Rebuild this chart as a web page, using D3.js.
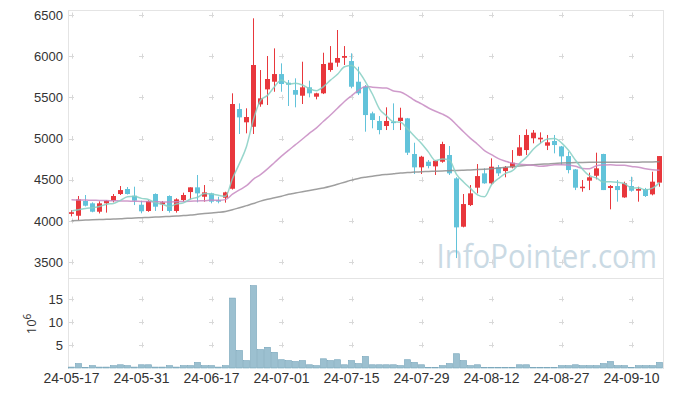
<!DOCTYPE html>
<html>
<head>
<meta charset="utf-8">
<script src="https://cdn.jsdelivr.net/npm/d3@7"></script>
<style>
  html, body { margin: 0; padding: 0; background: #fff; }
  svg { display: block; font-family: 'Open Sans', 'Noto Sans', sans-serif; }
</style>
</head>
<body>
<div id="chart"></div>
<script>
// trading days shown on the chart
const dates = [
  '24-05-17', '24-05-20', '24-05-21', '24-05-22', '24-05-23', '24-05-24', '24-05-27', '24-05-28', '24-05-29', '24-05-30',
  '24-05-31', '24-06-03', '24-06-04', '24-06-05', '24-06-07', '24-06-10', '24-06-11', '24-06-12', '24-06-13', '24-06-14',
  '24-06-17', '24-06-18', '24-06-19', '24-06-20', '24-06-21', '24-06-24', '24-06-25', '24-06-26', '24-06-27', '24-06-28',
  '24-07-01', '24-07-02', '24-07-03', '24-07-04', '24-07-05', '24-07-08', '24-07-09', '24-07-10', '24-07-11', '24-07-12',
  '24-07-15', '24-07-16', '24-07-17', '24-07-18', '24-07-19', '24-07-22', '24-07-23', '24-07-24', '24-07-25', '24-07-26',
  '24-07-29', '24-07-30', '24-07-31', '24-08-01', '24-08-02', '24-08-05', '24-08-06', '24-08-07', '24-08-08', '24-08-09',
  '24-08-12', '24-08-13', '24-08-14', '24-08-16', '24-08-19', '24-08-20', '24-08-21', '24-08-22', '24-08-23', '24-08-26',
  '24-08-27', '24-08-28', '24-08-29', '24-08-30', '24-09-02', '24-09-03', '24-09-04', '24-09-05', '24-09-06', '24-09-09',
  '24-09-10', '24-09-11', '24-09-12', '24-09-13', '24-09-19'
];

const open = [
  4085, 4062, 4241, 4213, 4111, 4213, 4245, 4326, 4387, 4305,
  4196, 4120, 4326, 4201, 4302, 4120, 4253, 4350, 4407, 4293,
  4334, 4253, 4281, 4390, 5358, 5197, 5143, 5415, 5597, 5690,
  5783, 5678, 5589, 5520, 5622, 5508, 5549, 5832, 5921, 5981,
  5941, 5690, 5629, 5306, 5213, 5152, 5205, 5213, 5245, 4812,
  4650, 4718, 4662, 4718, 4800, 4516, 3929, 4192, 4403, 4577,
  4456, 4650, 4605, 4650, 4791, 4860, 5003, 4990, 4913, 4970,
  4904, 4787, 4625, 4399, 4488, 4548, 4812, 4399, 4423, 4285,
  4423, 4366, 4387, 4322, 4464
];
const high = [
  4130, 4302, 4314, 4225, 4237, 4253, 4326, 4423, 4411, 4415,
  4245, 4250, 4334, 4241, 4310, 4274, 4342, 4407, 4557, 4435,
  4342, 4293, 4354, 5549, 5427, 5367, 6460, 5832, 6002, 6095,
  5913, 5711, 5731, 5933, 5702, 5556, 6042, 6123, 6318, 6123,
  6035, 5872, 5650, 5326, 5273, 5379, 5427, 5374, 5250, 4949,
  4790, 4739, 4740, 4961, 4909, 4530, 4326, 4435, 4690, 4638,
  4759, 4678, 4666, 4860, 5043, 5112, 5103, 5075, 5043, 5043,
  4910, 4840, 4630, 4496, 4585, 4828, 4815, 4435, 4496, 4476,
  4536, 4415, 4400, 4597, 4787
];
const low = [
  4055, 4010, 4175, 4104, 4090, 4100, 4225, 4314, 4320, 4192,
  4092, 4110, 4120, 4120, 4100, 4100, 4233, 4261, 4225, 4233,
  4213, 4213, 4221, 4380, 5055, 5063, 5055, 5386, 5407, 5568,
  5568, 5395, 5379, 5419, 5500, 5476, 5540, 5811, 5872, 5893,
  5610, 5528, 5083, 5124, 5051, 5103, 5103, 5103, 4800, 4569,
  4569, 4638, 4557, 4706, 4557, 3548, 3921, 4180, 4334, 4450,
  4440, 4544, 4529, 4638, 4787, 4800, 4942, 4942, 4860, 4820,
  4678, 4577, 4374, 4354, 4374, 4504, 4374, 4140, 4233, 4280,
  4354, 4233, 4290, 4310, 4415
];
const close = [
  4105, 4261, 4184, 4111, 4213, 4245, 4302, 4374, 4326, 4245,
  4116, 4241, 4172, 4225, 4120, 4261, 4314, 4407, 4334, 4346,
  4233, 4233, 4346, 5419, 5257, 5261, 5893, 5488, 5723, 5783,
  5662, 5653, 5532, 5622, 5549, 5549, 5905, 5921, 5978, 6002,
  5629, 5549, 5285, 5225, 5103, 5213, 5190, 5253, 4828, 4650,
  4779, 4666, 4730, 4933, 4577, 3921, 4204, 4334, 4544, 4456,
  4658, 4577, 4650, 4706, 4893, 5043, 5071, 5010, 4954, 4921,
  4783, 4617, 4403, 4415, 4529, 4638, 4374, 4423, 4374, 4456,
  4366, 4387, 4302, 4476, 4787
];

// moving averages as drawn (5, 20 and long term)
const ma5 = [
  4120, 4135, 4150, 4160, 4174, 4203, 4211, 4249, 4292, 4298,
  4273, 4260, 4220, 4200, 4175, 4204, 4218, 4265, 4287, 4332,
  4327, 4311, 4298, 4515, 4698, 4903, 5235, 5464, 5524, 5630,
  5710, 5662, 5671, 5650, 5604, 5581, 5631, 5709, 5780, 5871,
  5887, 5816, 5689, 5538, 5358, 5275, 5203, 5197, 5117, 5027,
  4940, 4835, 4731, 4752, 4737, 4565, 4473, 4394, 4316, 4292,
  4439, 4514, 4577, 4609, 4697, 4774, 4873, 4945, 4994, 5000,
  4948, 4857, 4736, 4628, 4549, 4520, 4472, 4476, 4468, 4453,
  4399, 4401, 4377, 4397, 4464
];
const ma20 = [
  4255, 4254, 4252, 4250, 4248, 4246, 4244, 4242, 4240, 4238,
  4236, 4234, 4232, 4230, 4230, 4232, 4235, 4238, 4242, 4245,
  4252, 4250, 4258, 4324, 4376, 4427, 4506, 4562, 4632, 4709,
  4786, 4857, 4925, 4994, 5066, 5130, 5210, 5285, 5368, 5450,
  5520, 5586, 5633, 5623, 5616, 5613, 5578, 5566, 5522, 5465,
  5421, 5371, 5331, 5297, 5248, 5167, 5082, 5002, 4931, 4853,
  4805, 4756, 4725, 4699, 4688, 4680, 4674, 4662, 4668, 4681,
  4682, 4679, 4663, 4637, 4634, 4670, 4679, 4683, 4675, 4675,
  4660, 4651, 4633, 4622, 4616
];
const maLong = [
  4002, 4005, 4009, 4013, 4016, 4019, 4022, 4025, 4031, 4034,
  4038, 4042, 4046, 4050, 4054, 4058, 4064, 4070, 4080, 4088,
  4096, 4104, 4115, 4135, 4160, 4185, 4210, 4240, 4262, 4280,
  4300, 4322, 4338, 4354, 4370, 4385, 4400, 4420, 4445, 4470,
  4495, 4515, 4530, 4543, 4555, 4564, 4572, 4580, 4586, 4592,
  4597, 4600, 4604, 4607, 4610, 4612, 4615, 4619, 4623, 4628,
  4634, 4642, 4650, 4658, 4666, 4674, 4681, 4687, 4692, 4698,
  4702, 4705, 4708, 4710, 4711, 4711, 4711, 4711, 4711, 4712,
  4712, 4713, 4714, 4716, 4718
];

// volume, millions of shares
const volume = [
  0.2, 0.95, 0.1, 0.5, 0.2, 0.2, 0.5, 0.7, 0.5, 0.2,
  0.7, 0.7, 0.2, 0.2, 0.5, 0.2, 0.5, 0.5, 1.2, 0.5,
  0.5, 0.2, 0.5, 15.2, 3.8, 1.6, 17.9, 4.0, 4.5, 3.4,
  1.8, 1.6, 1.4, 1.6, 0.7, 0.5, 2.0, 1.6, 1.8, 0.7,
  1.6, 0.95, 2.5, 0.7, 0.7, 0.7, 0.7, 0.5, 1.8, 1.2,
  0.7, 0.1, 0.1, 0.5, 0.95, 3.1, 1.6, 0.5, 0.7, 0.1,
  0.1, 0.1, 0.1, 0.1, 0.7, 0.7, 0.1, 0.1, 0.1, 0.1,
  0.5, 0.5, 0.7, 0.5, 0.5, 0.5, 0.95, 1.4, 0.5, 0.5,
  0.1, 0.5, 0.5, 0.5, 1.2
];

const priceTicks = [3500, 4000, 4500, 5000, 5500, 6000, 6500];
const volumeTicks = [5, 10, 15];
const labelEvery = 10;

const width = 673;
const height = 396;
const left = 68, right = 663;
const priceTop = 10, priceBottom = 278;
const volTop = 280, volBottom = 368;

const colors = {
  up: '#e8373c',
  down: '#62c3da',
  ma5: '#86cfc3',
  ma20: '#c78ac2',
  maLong: '#8e8e8e',
  volFill: '#9cc0d0',
  volStroke: '#74a3b9',
  frame: '#e4e4e4',
  cross: '#d8d8d8',
  text: '#333'
};

const candles = dates.map((d, i) => ({
  date: d, open: open[i], high: high[i], low: low[i], close: close[i], volume: volume[i]
}));

const svg = d3.select('#chart').append('svg')
  .attr('width', width)
  .attr('height', height);

const x = d3.scaleBand()
  .domain(dates)
  .range([left, right])
  .paddingInner(2 / 7)
  .paddingOuter(1 / 7);
const cx = d => x(d) + x.bandwidth() / 2;

const y = d3.scaleLinear().domain([3306, 6561]).range([priceBottom, priceTop]);
const yv = d3.scaleLinear().domain([0, 19.13]).range([volBottom, volTop]);

// watermark (slightly condensed like the original)
svg.append('text')
  .attr('transform', 'translate(657,268) scale(0.92,1)')
  .attr('text-anchor', 'end')
  .attr('fill', '#b9cedb')
  .attr('opacity', 0.75)
  .style('font-size', '32px')
  .text('InfoPointer.com');

// frame
const frame = svg.append('g').attr('stroke', colors.frame).attr('fill', 'none');
frame.append('line').attr('x1', left + 0.5).attr('x2', left + 0.5).attr('y1', priceTop).attr('y2', volBottom + 1);
frame.append('line').attr('x1', right + 0.5).attr('x2', right + 0.5).attr('y1', priceTop).attr('y2', volBottom + 1);
frame.append('line').attr('x1', left).attr('x2', right).attr('y1', priceTop + 0.5).attr('y2', priceTop + 0.5);
frame.append('line').attr('x1', left).attr('x2', right).attr('y1', priceBottom + 0.5).attr('y2', priceBottom + 0.5);

// grid crosses at label days
const labelDates = dates.filter((d, i) => i % labelEvery === 0);
const crossPts = [];
labelDates.forEach(d => {
  priceTicks.forEach(t => crossPts.push([cx(d), y(t)]));
  volumeTicks.forEach(t => crossPts.push([cx(d), yv(t)]));
});
svg.append('g')
  .attr('stroke', colors.cross)
  .selectAll('path')
  .data(crossPts)
  .join('path')
  .attr('d', p => `M${p[0] - 2.5},${Math.round(p[1]) + 0.5}h5M${Math.round(p[0]) + 0.5},${p[1] - 2.5}v5`);

// volume bars
svg.append('g')
  .selectAll('rect')
  .data(candles)
  .join('rect')
  .attr('x', d => x(d.date) - 0.5)
  .attr('y', d => yv(d.volume))
  .attr('width', x.bandwidth() + 1)
  .attr('height', d => yv(0) - yv(d.volume))
  .attr('fill', colors.volFill)
  .attr('stroke', colors.volStroke)
  .attr('stroke-width', 0.6);

// candles
const candle = svg.append('g')
  .selectAll('g')
  .data(candles)
  .join('g')
  .attr('fill', d => d.close >= d.open ? colors.up : colors.down)
  .attr('stroke', d => d.close >= d.open ? colors.up : colors.down);

candle.append('line')
  .attr('x1', d => Math.floor(cx(d.date)) + 0.5)
  .attr('x2', d => Math.floor(cx(d.date)) + 0.5)
  .attr('y1', d => y(d.high))
  .attr('y2', d => y(d.low));

candle.append('rect')
  .attr('stroke', 'none')
  .attr('x', d => x(d.date))
  .attr('width', x.bandwidth())
  .attr('y', d => y(Math.max(d.open, d.close)))
  .attr('height', d => Math.max(1.5, Math.abs(y(d.open) - y(d.close))));

// moving average lines
const line = d3.line()
  .x((v, i) => cx(dates[i]))
  .y(v => y(v))
  .curve(d3.curveMonotoneX);

[[maLong, colors.maLong], [ma20, colors.ma20], [ma5, colors.ma5]].forEach(([vals, c]) => {
  svg.append('path')
    .datum(vals)
    .attr('d', line)
    .attr('fill', 'none')
    .attr('stroke', c)
    .attr('stroke-width', 1.5)
    .attr('opacity', 0.85);
});

// price axis
svg.append('g')
  .attr('transform', `translate(${left - 5},0)`)
  .call(d3.axisLeft(y).tickValues(priceTicks).tickFormat(d3.format('d')).tickSize(0).tickPadding(0))
  .call(g => g.select('.domain').remove())
  .call(g => g.selectAll('.tick text').attr('fill', colors.text).style('font-size', '13px'));

// volume axis
svg.append('g')
  .attr('transform', `translate(${left - 5},0)`)
  .call(d3.axisLeft(yv).tickValues(volumeTicks).tickSize(0).tickPadding(0))
  .call(g => g.select('.domain').remove())
  .call(g => g.selectAll('.tick text').attr('fill', colors.text).style('font-size', '13px'));

const unit = svg.append('text')
  .attr('transform', `translate(36,${(volTop + volBottom) / 2}) rotate(-90)`)
  .attr('text-anchor', 'middle')
  .attr('fill', colors.text)
  .style('font-size', '13px');
unit.append('tspan').text('10');
unit.append('tspan').attr('dy', -5).style('font-size', '10px').text('6');

// date axis
svg.append('g')
  .attr('transform', `translate(0,${volBottom + 1})`)
  .call(d3.axisBottom(x).tickValues(labelDates).tickSize(0).tickPadding(4))
  .call(g => g.select('.domain').remove())
  .call(g => g.selectAll('.tick text').attr('fill', colors.text).style('font-size', '14px'));
</script>
</body>
</html>
